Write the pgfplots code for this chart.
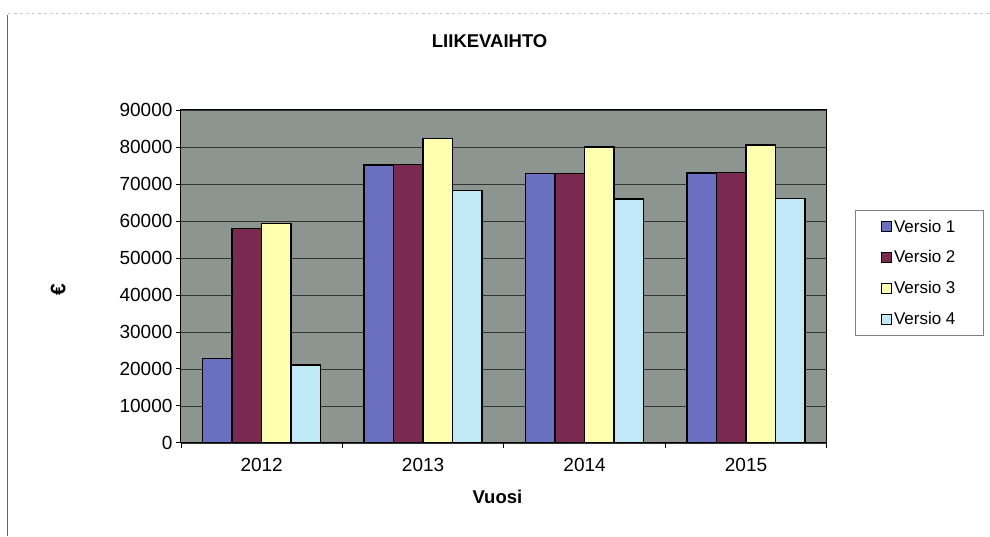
\documentclass[border=0pt]{standalone}
\usepackage{fontspec}
\setmainfont{Liberation Sans}
\usepackage{pgfplots}
\pgfplotsset{compat=1.18}
\definecolor{cA}{HTML}{6A6FC0}
\definecolor{cB}{HTML}{7A2A50}
\definecolor{cC}{HTML}{FFFFB0}
\definecolor{cD}{HTML}{C0E8F5}
\definecolor{bggray}{HTML}{8C9590}
\begin{document}
\begin{tikzpicture}[x=1pt,y=1pt]
\path[fill=white] (0,0) rectangle (990,536);
\draw[black!60, line width=1pt] (8,0) -- (8,521);
\draw[black!20, line width=0.6pt, dashed] (8,523) -- (990,523);
\begin{axis}[
  at={(181pt,93pt)}, anchor=south west,
  scale only axis, width=646pt, height=333pt,
  xmin=-0.5, xmax=3.5, ymin=0, ymax=90000,
  ybar=0pt, bar width=29.5pt,
  every axis plot/.append style={draw=black, line width=1.4pt,
    legend image code/.code={\draw[##1, line width=0.9pt] (0pt,-5pt) rectangle (10pt,5pt);}},
  xtick={0,1,2,3}, xticklabels={2012,2013,2014,2015},
  major x tick style={draw=none},
  minor xtick={-0.5,0.5,1.5,2.5,3.5},
  minor x tick style={black, line width=0.8pt},
  ytick={0,10000,...,90000},
  tick align=outside, tick pos=left,
  major tick length=5pt, minor tick length=5pt,
  y tick style={black, line width=0.8pt},
  axis line style={black, line width=1pt},
  axis background/.style={fill=bggray},
  ymajorgrids, grid style={black!80, line width=0.6pt},
  scaled y ticks=false,
  /pgf/number format/.cd, 1000 sep={}, assume math mode=true,
  /pgfplots/.cd,
  tick label style={font=\fontsize{19}{21}\selectfont},
  xticklabel style={yshift=-7pt},
  title={LIIKEVAIHTO},
  title style={at={(axis description cs:0.478,1.189)}, anchor=center, font=\bfseries\fontsize{18.5}{20}\selectfont},
  xlabel={Vuosi},
  xlabel style={at={(axis description cs:0.49,-0.162)}, anchor=center, font=\bfseries\fontsize{18.5}{20}\selectfont},
  ylabel={€},
  ylabel style={at={(axis description cs:-0.19,0.46)}, anchor=center, font=\bfseries\fontsize{21}{22}\selectfont},
  legend style={at={(axis description cs:1.0433,0.6997)}, anchor=north west,
    draw=black!50, line width=0.8pt, font=\fontsize{17}{20}\selectfont,
    inner xsep=26pt, inner ysep=7.5pt, row sep=13pt,
    legend cell align=left},
]
\addplot[fill=cA] coordinates {(0,22800) (1,75100) (2,72900) (3,73000)};
\addplot[fill=cB] coordinates {(0,57900) (1,75300) (2,72900) (3,73100)};
\addplot[fill=cC] coordinates {(0,59300) (1,82300) (2,80000) (3,80500)};
\addplot[fill=cD] coordinates {(0,21000) (1,68200) (2,65900) (3,66100)};
\legend{Versio 1,Versio 2,Versio 3,Versio 4}
\end{axis}
\end{tikzpicture}
\end{document}
